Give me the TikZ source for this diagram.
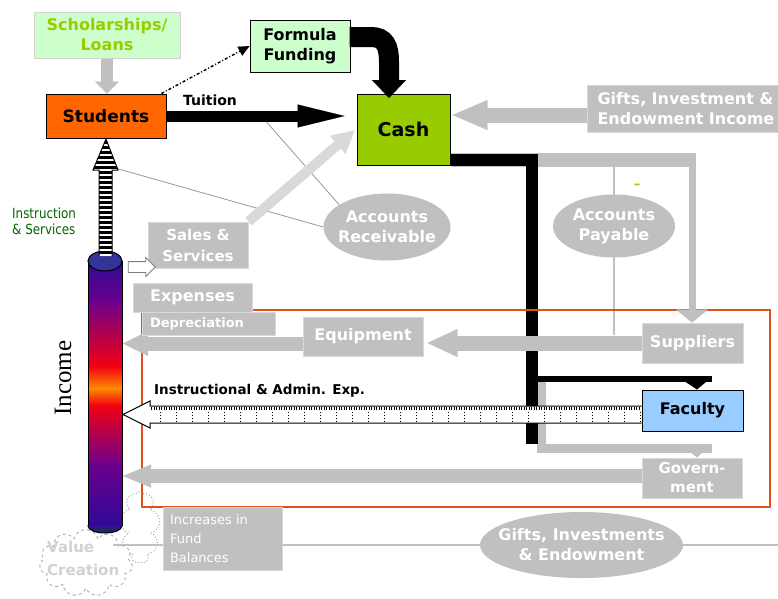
\documentclass[tikz,border=0pt]{standalone}
\usepackage{fontspec}
\setmainfont{DejaVu Sans}
\newfontfamily\seriffont{Liberation Serif}
\newfontfamily\condfont[FakeStretch=0.85]{DejaVu Sans}
\usetikzlibrary{arrows.meta,shapes.geometric,shapes.symbols,shapes.arrows,calc}
\definecolor{lgreen}{HTML}{CCFFCC}
\definecolor{ygreen}{HTML}{99CC00}
\definecolor{orng}{HTML}{FF6600}
\definecolor{gr}{HTML}{C0C0C0}
\definecolor{lgr}{HTML}{D9D9D9}
\definecolor{fac}{HTML}{99CCFF}
\definecolor{framec}{HTML}{E0501E}
\definecolor{dgreen}{HTML}{006600}
\definecolor{cyA}{HTML}{2E0A96}
\definecolor{cyB}{HTML}{6A008E}
\definecolor{cyC}{HTML}{C00050}
\definecolor{cyD}{HTML}{F20012}
\definecolor{cyE}{HTML}{FF8C00}
\definecolor{capc}{HTML}{333399}
\pgfdeclarelayer{back}
\pgfdeclarelayer{mid}
\pgfsetlayers{back,mid,main}
\tikzset{
  base/.style={inner sep=0pt, align=center, line width=1pt},
  fsix/.style={font=\bfseries\fontsize{16}{20}\selectfont},
  graybox/.style={base, fill=gr, draw=gr!60!white, text=white, fsix},
  blackbox/.style={base, draw=black},
  grayell/.style={ellipse, inner sep=0pt, fill=gr},
  elltext/.style={align=center, text=white, fsix, inner sep=0pt},
  thinln/.style={draw=gray!80, line width=0.8pt},
}
\begin{document}
\begin{tikzpicture}[x=1pt,y=-1pt]
\useasboundingbox (0,0) rectangle (778,598);
\clip (0,0) rectangle (778,598);
\begin{pgfonlayer}{back}
  \fill[white] (0,0) rectangle (778,598);
\end{pgfonlayer}

% ---------- nodes ----------
\node[blackbox, draw=gr!70, fill=lgreen, text=ygreen, fsix, minimum width=146pt, minimum height=46pt] (schol) at (107,35) {Scholarships/\\Loans};
\node[blackbox, fill=orng, font=\bfseries\fontsize{17}{20}\selectfont, minimum width=120pt, minimum height=44pt] (students) at (106,116) {Students};
\node[blackbox, fill=lgreen, fsix, minimum width=100pt, minimum height=52pt] (ff) at (300,46) {Formula\\Funding};
\node[blackbox, fill=ygreen, font=\bfseries\fontsize{19}{22}\selectfont, minimum width=93pt, minimum height=71pt] (cash) at (403.5,129.5) {Cash};
\node[graybox, anchor=west, text width=181pt, inner xsep=10pt, align=left, minimum height=47pt] (gifts) at (587,108.5) {Gifts, Investment \&\\Endowment Income};
\node[grayell, minimum width=127pt, minimum height=67pt] (ar) at (387,227) {};
\node[elltext] (artext) at (ar) {Accounts\\Receivable};
\node[grayell, minimum width=122pt, minimum height=63pt] (ap) at (614,226) {};
\node[elltext] (aptext) at (ap) {Accounts\\Payable};
\node[graybox, minimum width=100pt, minimum height=46pt, font=\bfseries\fontsize{15}{21}\selectfont] (sales) at (198,245) {Sales \&\\Services};
\node[graybox, minimum width=119pt, minimum height=29pt] (exp) at (192.5,297.5) {Expenses};
\node[graybox, minimum width=133pt, minimum height=23pt, text width=117pt, align=left, font=\bfseries\fontsize{13}{15}\selectfont] (dep) at (208.5,323.5) {Depreciation};
\node[graybox, minimum width=120pt, minimum height=39pt] (equip) at (363,336.5) {Equipment};
\node[graybox, minimum width=101pt, minimum height=40pt] (supp) at (692.5,343) {Suppliers};
\node[blackbox, fill=fac, fsix, minimum width=101pt, minimum height=41pt] (fac) at (692.5,410.5) {Faculty};
\node[graybox, minimum width=100pt, minimum height=40pt, font=\bfseries\fontsize{15}{19}\selectfont] (gov) at (692,478) {Govern-\\ment};
\node[grayell, minimum width=203pt, minimum height=66pt] (gie) at (581.5,545) {};
\node[elltext] (gietext) at (gie) {Gifts, Investments\\\& Endowment};
\node[graybox, minimum width=119pt, minimum height=63pt, text width=105pt, align=left, font=\fontsize{13}{19}\selectfont] (incf) at (222.5,538.5) {Increases in\\Fund\\Balances};

\node[font=\bfseries\fontsize{14}{16}\selectfont] (tuit) at (210,100) {Tuition};
\node[font=\condfont\fontsize{14}{16}\selectfont, text=dgreen, align=left, anchor=west, inner sep=0pt] (instr) at (12,221) {Instruction\\\& Services};
\node[font=\bfseries\fontsize{13.5}{16}\selectfont, anchor=west, inner sep=0pt] (iae) at (154,391) {Instructional \& Admin. Exp.};
\node[font=\seriffont\fontsize{25}{28}\selectfont, rotate=90, inner sep=0pt] (incomelbl) at (63,378) {Income};
\node[text=ygreen, font=\bfseries\fontsize{13}{13}\selectfont, inner sep=0pt] (gdash) at (637,186) {--};

% ---------- coordinates ----------
\coordinate (bj1) at (532,160);
\coordinate (bj2) at (532,444);
\coordinate (bj3) at (532,379);
\coordinate (bj4) at (712,379);
\coordinate (gj1) at (692,160);
\coordinate (gj2) at (541,379);
\coordinate (gj4) at (712,448);
\coordinate (t1) at (263,118);
\coordinate (s1) at (115,168);
\coordinate (vl) at (113,545);
\coordinate (redge) at (778,545);
\coordinate (apb) at (614,335);
\coordinate (ga) at (587,115);
\coordinate (cylEq) at (123,343.5);
\coordinate (cylGov) at (123,476);
\coordinate (fa) at (389,98);

% ---------- back layer ----------
\begin{pgfonlayer}{back}
  \draw[thinln] (t1) -- (ar.155);
  \draw[thinln] (s1) -- (ar.west);
  \draw[gr, line width=1.5pt] (ap.north |- gj1) -- (apb);
  % clouds
  \node[cloud, cloud puffs=9, aspect=0.6, draw=gray!70, dotted, line width=1pt, minimum width=40pt, minimum height=72pt, inner sep=0pt] (cl2) at (140,527) {};
  \node[cloud, cloud puffs=11, aspect=1.4, draw=gray!70, dashed, fill=white, line width=0.8pt, minimum width=93pt, minimum height=67pt, inner sep=0pt] (vc) at (86,563) {};
  \draw[gr, line width=1.5pt] (vl) -- (gie.west);
  \draw[gr, line width=1.5pt] (gie.east) -- (redge);
  % gray paths under the black line
  \draw[gr, line width=14pt] (cash.east |- gj1) -- ($(gj1)+(4,0)$);
  \draw[gr, line width=9pt] (gj2) |- (gj4);
  \fill[gr] (680,444) -- (712,444) -- (gov.north -| 697,0) -- cycle;
  % black flow
  \draw[line width=12pt, line join=miter] (cash.east |- bj1) -- (bj1) -- (bj2);
  \draw[line width=6pt] (bj3) -- (bj4);
  \fill (678,377) -- (712,377) -- (fac.north -| 697,0) -- cycle;
\end{pgfonlayer}

% ---------- mid layer ----------
\begin{pgfonlayer}{mid}
  \draw[framec, line width=1.5pt] (142,310) rectangle (770,507);
  \draw[gr, line width=7pt, -{Triangle[length=13pt,width=32pt,line width=0.1pt]}] ($(gj1)+(0,-7)$) -- (gj1 |- supp.north);
  \draw[gr, line width=12pt, -{Triangle[length=12pt,width=24pt,line width=0.1pt]}] (schol.south) -- (schol.south |- students.north);
  \draw[gr, line width=15pt, -{Triangle[length=35pt,width=30pt,line width=0.1pt]}] (ga) -- ($(cash.east |- ga)+(2,0)$);
  \draw[lgr, line width=10pt, -{Triangle[length=22pt,width=24pt,line width=0.1pt]}] (sales.north east) -- ($(cash.west)+(-2,1)$);
  \draw[gr, line width=15pt, -{Triangle[length=30pt,width=28pt,line width=0.1pt]}] (supp.west) -- ($(equip.east |- supp.west)+(4,0)$);
  \draw[gr, line width=14pt, -{Triangle[length=25pt,width=25pt,line width=0.1pt]}] (equip.west |- cylEq) -- (cylEq);
  \draw[gr, line width=14pt, -{Triangle[length=28pt,width=23pt,line width=0.1pt]}] (gov.west |- cylGov) -- (cylGov);
  % hatched arrow Faculty -> Income
  \fill[white] ($(fac.west)+(0,-4.5)$) -- (150,406) -- (150,401) -- (123,414.5) -- (150,428) -- (150,423) -- ($(fac.west)+(0,12.5)$) -- cycle;
  \draw[line width=3pt, dash pattern=on 1pt off 1.5pt] (151,408.5) -- (641,408.5);
  \foreach \x in {160,176,...,640} \draw[line width=1pt, dash pattern=on 1.5pt off 1.5pt] (\x,411.5) -- (\x,421);
  \draw[line width=1pt] ($(fac.west)+(0,-4.5)$) -- (150,406) -- (150,401) -- (123,414.5) -- (150,428) -- (150,423) -- ($(fac.west)+(0,12.5)$);
\end{pgfonlayer}

% ---------- tuition & dotted ----------
\draw[line width=11pt, -{Triangle[length=47pt,width=23pt,line width=0.1pt]}] (students.east) -- ($(cash.west |- students.east)+(-12,0)$);
\draw[line width=1.4pt, dash pattern=on 3pt off 2pt on 1pt off 2pt, -{Triangle[length=11pt,width=10pt,line width=0.1pt]}] ($(students.north east)+(-5,0)$) -- (ff.west);
\draw[line width=20pt, -{Triangle[length=18pt,width=34pt,line width=0.1pt]}] ($(ff.east)+(-1,-9)$) -- (371,37) .. controls (385,37) and (389,46) .. (389,62) -- (fa);

% ---------- Income cylinder ----------
\fill[capc!70!black] (105,526) ellipse [x radius=17pt, y radius=7pt];
\draw[line width=1pt] (105,526) ellipse [x radius=17pt, y radius=7pt];
\shade[top color=cyA, bottom color=cyB] (88,261) rectangle (122,300.5);
\shade[top color=cyB, middle color=cyC, bottom color=cyD] (88,300) rectangle (122,366.5);
\shade[top color=cyD, bottom color=cyE] (88,366) rectangle (122,388.5);
\shade[top color=cyE, bottom color=cyD] (88,388) rectangle (122,405.5);
\shade[top color=cyD, middle color=cyC, bottom color=cyB] (88,405) rectangle (122,466.5);
\shade[top color=cyB, bottom color=cyA] (88,466) rectangle (122,526);
\draw[line width=1pt] (88,261) -- (88,526) (122,261) -- (122,526);
\filldraw[fill=capc, draw=black, line width=1pt] (105,261) ellipse [x radius=17pt, y radius=10pt];

% ---------- striped arrow Income -> Students ----------
\begin{scope}
  \clip (99,256) -- (99,170) -- (93,170) -- (106,139) -- (118,170) -- (112,170) -- (112,256) -- cycle;
  \fill[white] (90,135) rectangle (120,258);
  \foreach \y in {141,146,...,256} \fill[black] (90,\y) rectangle (120,\y+2.5);
\end{scope}
\draw[line width=1pt] (99,256) -- (99,170) -- (93,170) -- (106,139) -- (118,170) -- (112,170) -- (112,256);

% small white arrow Income -> Sales
\node[single arrow, draw=gray, fill=white, line width=0.8pt, minimum height=27pt, inner sep=5pt, single arrow head extend=4pt] (sarr) at (139,267) {};

% Value creation text
\node[text=gray!35, font=\bfseries\fontsize{15}{23}\selectfont, align=left, anchor=west, inner sep=0pt] (vctext) at (47,558) {Value\\Creation};
\end{tikzpicture}
\end{document}
